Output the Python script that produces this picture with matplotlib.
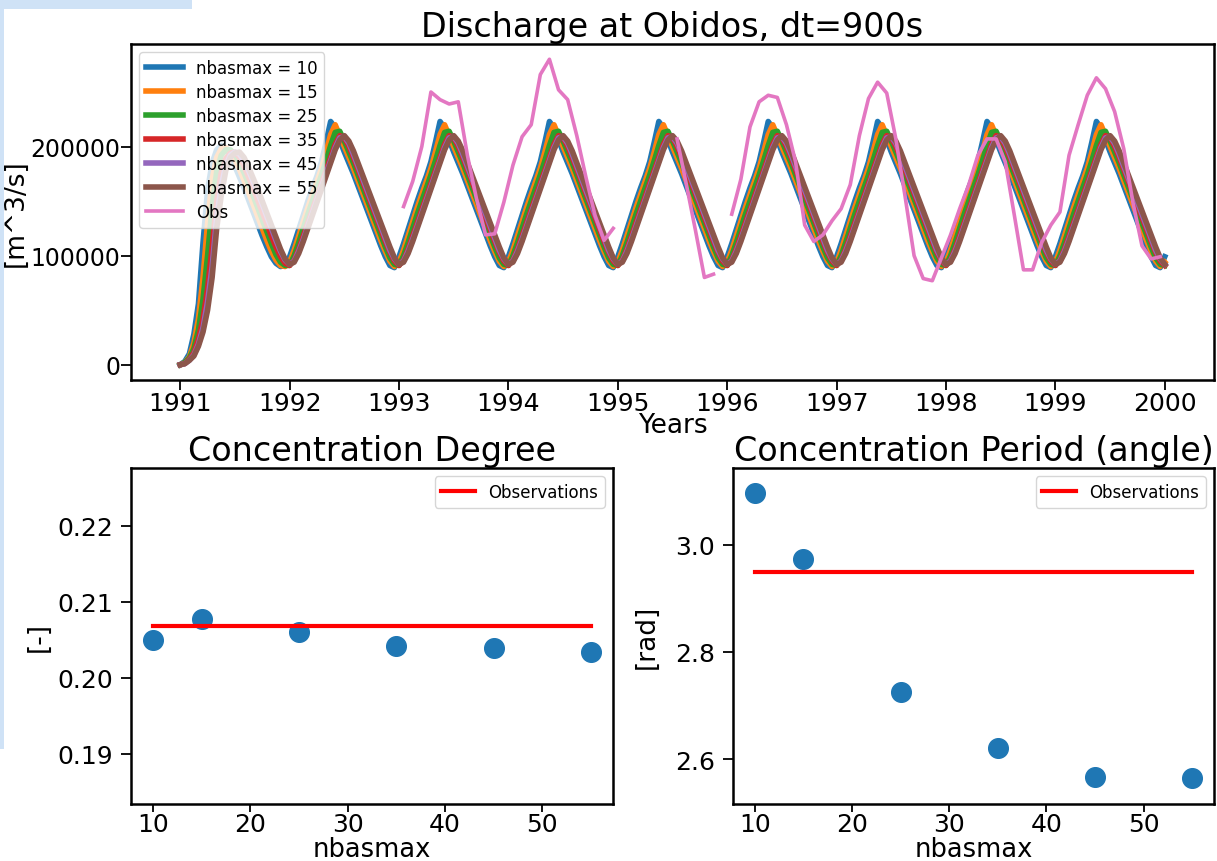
import numpy as np
import matplotlib
matplotlib.use("Agg")
import matplotlib.pyplot as plt
import matplotlib.patches as mplp

# simulated discharge at Obidos [m^3/s / 1000], read every half month (k/24 of a year)
# first year is the spin-up, after that the run repeats the same annual cycle
nbasmax = [10, 15, 25, 35, 45, 55]

spinup = {
    10: [0, 3, 10, 28, 56, 112, 160, 185, 197, 201, 198, 191,
         182, 172, 162, 151, 140, 129, 118, 108, 99, 93, 90, 91],
    15: [0, 2, 7, 20, 42, 80, 130, 170, 190, 198, 199, 195,
         188, 179, 169, 158, 147, 136, 125, 114, 104, 96, 91, 90],
    25: [0, 2, 6, 15, 32, 60, 100, 145, 177, 192, 197, 197,
         193, 185, 176, 166, 155, 144, 133, 122, 111, 101, 94, 91],
    35: [0, 1, 5, 11, 24, 42, 70, 108, 150, 176, 189, 194,
         195, 190, 182, 172, 162, 151, 140, 129, 118, 108, 99, 93],
    45: [0, 1, 4, 9, 19, 34, 58, 90, 135, 164, 183, 192,
         195, 193, 187, 178, 168, 158, 147, 136, 125, 114, 104, 96],
    55: [0, 1, 4, 8, 17, 30, 50, 80, 125, 155, 178, 190,
         194, 195, 190, 181, 171, 161, 150, 139, 128, 117, 106, 97],
}

cycle = {
    10: [99, 111, 124, 137, 150, 162, 173, 186, 204, 223, 217, 206,
         195, 185, 175, 164, 153, 142, 131, 120, 109, 99, 91, 89],
    15: [94, 105, 118, 131, 144, 156, 168, 180, 195, 211, 220, 210,
         200, 190, 180, 169, 158, 147, 136, 125, 114, 104, 95, 90],
    25: [91, 100, 112, 125, 138, 150, 162, 174, 187, 201, 213, 214,
         205, 195, 185, 174, 163, 152, 141, 130, 119, 108, 98, 92],
    35: [91, 96, 106, 118, 130, 142, 154, 166, 178, 190, 202, 210,
         208, 200, 190, 179, 168, 157, 146, 135, 124, 113, 103, 95],
    45: [92, 95, 104, 115, 127, 139, 151, 163, 175, 187, 199, 208,
         209, 203, 193, 182, 171, 160, 149, 138, 127, 116, 105, 97],
    55: [92, 94, 102, 113, 125, 137, 149, 161, 173, 185, 197, 206,
         210, 205, 196, 185, 174, 163, 152, 141, 130, 119, 108, 98],
}

# observed monthly discharge [m^3/s / 1000], mid-month, gaps as nan
nan = np.nan
obs_1993 = [145, 168, 200, 250, 243, 239, 241, 192, 152, 119, 120, 149]
obs_1994 = [183, 209, 220, 266, 280, 252, 243, 210, 172, 137, 114, 125]
obs_1995 = [nan, nan, nan, nan, nan, nan, 207, 166, 124, 80, 83, nan]
obs_1996 = [138, 170, 218, 241, 247, 245, 220, 186, 128, 113, 119, 132]
obs_1997 = [143, 165, 210, 244, 259, 249, 207, 155, 100, 79, 77, 98]
obs_1998 = [119, 143, 165, 192, 207, 207, 186, 137, 87, 87, 112, 128]
obs_1999 = [140, 192, 220, 247, 263, 253, 232, 198, 149, 109, 97, 99]

# concentration indices
degree_sim = [0.2050, 0.2078, 0.2060, 0.2042, 0.2039, 0.2034]
degree_obs = 0.2068
period_sim = [3.097, 2.974, 2.726, 2.621, 2.567, 2.564]
period_obs = 2.949

n_years = 9


def sim_series(nb):
    vals = list(spinup[nb])
    for _ in range(n_years - 1):
        vals += cycle[nb]
    vals.append(cycle[nb][0])
    return np.asarray(vals) * 1000.0


t_sim = 1991 + np.arange(24 * n_years + 1) / 24.0
obs = np.concatenate([obs_1993, obs_1994, obs_1995, obs_1996,
                      obs_1997, obs_1998, obs_1999]) * 1000.0
t_obs = 1993 + (np.arange(len(obs)) + 0.5) / 12.0

plt.rcParams["font.family"] = ["DejaVu Sans"]
plt.rcParams["axes.linewidth"] = 1.8

W, H = 1217, 862
fig = plt.figure(figsize=(W / 100, H / 100), dpi=100)

# bits of window chrome in the screenshot
fig.patches.append(mplp.Rectangle((0, 1 - 10 / H), 192 / W, 10 / H,
                                  transform=fig.transFigure,
                                  facecolor="#cfe2f6", edgecolor="none"))
fig.patches.append(mplp.Rectangle((0, 1 - 750 / H), 4 / W, 740 / H,
                                  transform=fig.transFigure,
                                  facecolor="#cfe2f6", edgecolor="none"))

ax = fig.add_axes([131 / W, 1 - 381 / H, 1083 / W, 336 / H])
axl = fig.add_axes([131 / W, 1 - 805 / H, 482 / W, 336 / H])
axr = fig.add_axes([733 / W, 1 - 805 / H, 481 / W, 336 / H])

for nb in nbasmax:
    ax.plot(t_sim, sim_series(nb), lw=4, label="nbasmax = %d" % nb)
ax.plot(t_obs, obs, lw=2.6, color="tab:pink", label="Obs")

ax.set_title("Discharge at Obidos, dt=900s", fontsize=24)
ax.set_xlabel("Years", fontsize=19, labelpad=-2)
ax.set_ylabel("[m^3/s]", fontsize=19)
ax.yaxis.set_label_coords(-0.094, 0.5)
ax.set_xticks(np.arange(1991, 2001))
ax.set_yticks([0, 100000, 200000])
ax.tick_params(labelsize=18, length=7, width=1.3, pad=1)
ax.tick_params(axis="y", labelsize=17, pad=0.5)
ax.legend(loc="upper left", fontsize=12, labelspacing=0.36, handlelength=2.2)

axl.scatter(nbasmax, degree_sim, s=200, color="tab:blue")
axl.plot(nbasmax, [degree_obs] * len(nbasmax), color="red", lw=3,
         label="Observations")
axl.set_ylim(0.18343, 0.22758)
axl.set_yticks([0.19, 0.20, 0.21, 0.22])
axl.set_title("Concentration Degree", fontsize=24)
axl.set_ylabel("[-]", fontsize=19)
axl.yaxis.set_label_coords(-0.165, 0.5)

axr.scatter(nbasmax, period_sim, s=200, color="tab:blue")
axr.plot(nbasmax, [period_obs] * len(nbasmax), color="red", lw=3,
         label="Observations")
axr.set_ylim(2.516, 3.1435)
axr.set_yticks([2.6, 2.8, 3.0])
axr.set_title("Concentration Period (angle)", fontsize=24)
axr.set_ylabel("[rad]", fontsize=19)
axr.yaxis.set_label_coords(-0.153, 0.5)

for a in (axl, axr):
    a.set_xticks([10, 20, 30, 40, 50])
    a.set_xlabel("nbasmax", fontsize=18.5, labelpad=0)
    a.tick_params(labelsize=18, length=7, width=1.3, pad=1)
    a.tick_params(axis="x", length=6, pad=0)
    a.tick_params(axis="y", pad=6)
    a.legend(loc="upper right", fontsize=12)

fig.savefig("out.png", dpi=100)
